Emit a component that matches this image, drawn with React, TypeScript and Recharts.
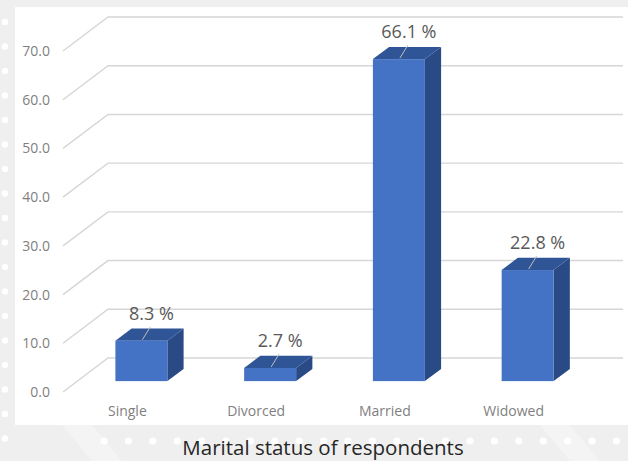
import React from 'react';
import { BarChart, Bar, XAxis, YAxis, CartesianGrid, LabelList } from 'recharts';

// Marital status of respondents (%)
const categories = ['Single', 'Divorced', 'Married', 'Widowed'];
const shares = [8.3, 2.7, 66.1, 22.8];
const yTicks = [0, 10, 20, 30, 40, 50, 60, 70];

const data = categories.map((name, i) => ({ name, value: shares[i] }));

// oblique "3D" projection: full floor depth and where the bars sit in it
const DEPTH_X = 45;
const DEPTH_Y = -34;
const BAR_FRONT = 0.32; // fraction of the depth in front of the bars
const BAR_DEPTH = 0.36; // bar thickness as a fraction of the depth

const FRONT = '#4472c4';
const TOP = '#2f5597';
const SIDE = '#294a84';
const GRID = '#d6d6d6';
const FONT = '"Open Sans", "Noto Sans", sans-serif';

const Bar3D = (props: any) => {
  const { x, y, width, height } = props;
  if (height == null || width == null) return null;
  const ox = DEPTH_X * BAR_FRONT;
  const oy = DEPTH_Y * BAR_FRONT;
  const dx = DEPTH_X * BAR_DEPTH;
  const dy = DEPTH_Y * BAR_DEPTH;
  const fx = x + ox;
  const fy = y + oy;
  const top = `${fx},${fy} ${fx + width},${fy} ${fx + width + dx},${fy + dy} ${fx + dx},${fy + dy}`;
  const side = `${fx + width},${fy} ${fx + width + dx},${fy + dy} ${fx + width + dx},${fy + height + dy} ${fx + width},${fy + height}`;
  return (
    <g>
      <polygon points={side} fill={SIDE} />
      <polygon points={top} fill={TOP} />
      <rect x={fx} y={fy} width={width} height={height} fill={FRONT} />
    </g>
  );
};

const renderLabel = (p: any) => {
  const vb = p.viewBox && p.viewBox.width != null ? p.viewBox : p;
  const cx = vb.x + vb.width / 2 + DEPTH_X * BAR_FRONT;
  const top = vb.y + DEPTH_Y * BAR_FRONT;
  return (
    <g>
      <line x1={cx + 1} y1={top - 1} x2={cx + 9} y2={top - 14} stroke="#bfbfbf" strokeWidth={1} />
      <text
        x={cx + 10}
        y={top - 21}
        textAnchor="middle"
        fontSize={18}
        fontFamily={FONT}
        fill="#595959"
      >
        {`${p.value} %`}
      </text>
    </g>
  );
};

// back-wall gridline with its diagonal run from the front plane
const gridLine = (p: any) => {
  const { x1, y1, x2 } = p;
  const d = `M${x1},${y1} L${x1 + DEPTH_X},${y1 + DEPTH_Y} L${x2 + DEPTH_X},${y1 + DEPTH_Y}`;
  return <path key={p.key ?? `g-${p.index}`} d={d} fill="none" stroke={GRID} strokeWidth={1.4} />;
};

const leftDots = Array.from({ length: 18 }, (_, i) => 22 + i * 24.5);
const bottomDots = Array.from({ length: 22 }, (_, i) => 104 + i * 24.4);

export default function App() {
  return (
    <div
      style={{
        position: 'absolute',
        left: 0,
        top: 0,
        width: 628,
        height: 461,
        background: '#efefef',
        overflow: 'hidden',
      }}
    >
      <svg width={628} height={461} style={{ position: 'absolute', left: 0, top: 0 }}>
        <polygon points="62,425 92,425 122,461 92,461" fill="#f4f4f4" />
        <polygon points="540,425 570,425 600,461 570,461" fill="#f4f4f4" />
        {leftDots.map((cy) => (
          <circle key={`l${cy}`} cx={5} cy={cy} r={3.2} fill="#ffffff" />
        ))}
        {bottomDots.map((cx) => (
          <circle key={`b${cx}`} cx={cx} cy={441} r={3.6} fill="#ffffff" />
        ))}
        <rect x={15} y={7} width={613} height={418} fill="#ffffff" />
      </svg>

      <div style={{ position: 'absolute', left: 0, top: 0 }}>
        <BarChart
          width={628}
          height={461}
          data={data}
          margin={{ top: 51, right: 50, bottom: 39, left: 0 }}
          barSize={52}
        >
          <CartesianGrid vertical={false} horizontal={gridLine} />
          <XAxis
            dataKey="name"
            axisLine={false}
            tickLine={false}
            tickSize={0}
            tickMargin={14}
            height={30}
            tick={{ fontSize: 14, fill: '#7f7f7f', fontFamily: FONT }}
          />
          <YAxis
            domain={[0, 70]}
            ticks={yTicks}
            width={63}
            axisLine={false}
            tickLine={false}
            tickSize={0}
            tickMargin={13}
            tickFormatter={(v: number) => v.toFixed(1)}
            tick={{ fontSize: 14, fill: '#7f7f7f', fontFamily: FONT }}
          />
          <Bar dataKey="value" shape={Bar3D} isAnimationActive={false}>
            <LabelList dataKey="value" content={renderLabel} />
          </Bar>
        </BarChart>
      </div>

      <svg width={628} height={461} style={{ position: 'absolute', left: 0, top: 0 }}>
        <text
          x={323}
          y={455}
          textAnchor="middle"
          fontSize={20.5}
          fontFamily={FONT}
          fill="#262626"
        >
          Marital status of respondents
        </text>
      </svg>
    </div>
  );
}
